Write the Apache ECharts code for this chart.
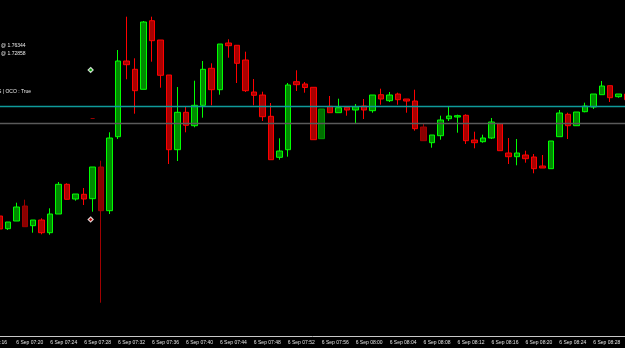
<!DOCTYPE html>
<html>
<head>
<meta charset="utf-8">
<script src="https://cdn.jsdelivr.net/npm/echarts@6/dist/echarts.min.js"></script>
<style>
  html, body { margin: 0; padding: 0; background: #000; }
  #chart { width: 625px; height: 348px; }
</style>
</head>
<body>
<div id="chart"></div>
<script>
// one-minute bars, 6 Sep 07:18 .. 08:32
const times = [
  '07:18', '07:19', '07:20', '07:21', '07:22', '07:23', '07:24', '07:25', '07:26', '07:27',
  '07:28', '07:29', '07:30', '07:31', '07:32', '07:33', '07:34', '07:35', '07:36', '07:37',
  '07:38', '07:39', '07:40', '07:41', '07:42', '07:43', '07:44', '07:45', '07:46', '07:47',
  '07:48', '07:49', '07:50', '07:51', '07:52', '07:53', '07:54', '07:55', '07:56', '07:57',
  '07:58', '07:59', '08:00', '08:01', '08:02', '08:03', '08:04', '08:05', '08:06', '08:07',
  '08:08', '08:09', '08:10', '08:11', '08:12', '08:13', '08:14', '08:15', '08:16', '08:17',
  '08:18', '08:19', '08:20', '08:21', '08:22', '08:23', '08:24', '08:25', '08:26', '08:27',
  '08:28', '08:29', '08:30', '08:31', '08:32'
];

// price in chart points
const opens  = [120, 107.3, 115, 130, 110.3, 116, 103.3, 122, 151.7, 137,
  141.7, 137.3, 169, 125.3, 199.3, 275, 266.7, 246.7, 315.3, 296,
  261, 186.3, 223.7, 210.3, 230.7, 267.7, 246.3, 293, 290.7, 276,
  244, 241, 219.7, 178.7, 186.3, 254.3, 252, 248.7, 197.3, 229.7,
  223.3, 228.7, 226, 230, 225.3, 241.3, 235.3, 242, 237, 235,
  209, 193.3, 200.3, 217.3, 219, 220.7, 196, 194.3, 198, 212.3,
  183, 179.3, 181, 179, 170, 167.3, 199.3, 221.7, 210.3, 224.3,
  229, 241.3, 250.3, 239.3, 242];
const closes = [107, 114, 129, 109.3, 116, 103.3, 122, 151.7, 136.7, 142,
  137, 169, 125.3, 198, 275, 271.3, 245.3, 314, 295.3, 260.7,
  186.3, 223.7, 210.7, 230.7, 266.7, 246.3, 292, 290.3, 272.7, 245.3,
  240.7, 219.3, 176.3, 185, 251, 251.3, 248.5, 196.3, 227, 223.3,
  228.3, 226, 229.3, 226, 241, 237, 241, 236.3, 235, 207.3,
  195.3, 201, 216, 220, 220.3, 195.3, 193.3, 198, 214, 185.3,
  179.3, 183, 177.3, 167.3, 168, 195, 223, 210.3, 224, 230,
  242, 250, 238.3, 242, 236.3];
const lows   = [106, 106, 115, 109.3, 103.3, 101.7, 101.3, 122, 136.7, 135.3,
  131, 124.3, 33.3, 122, 197, 256.7, 222.3, 246.7, 274.3, 248.3,
  172, 175, 203.7, 208.7, 218.3, 230.7, 241.3, 278.3, 253, 244,
  230.7, 215, 176.3, 176.3, 179.3, 245, 243.3, 196.3, 197.3, 223.3,
  223.3, 220.3, 212.3, 217, 223.3, 231.3, 234, 231.3, 223.3, 205.3,
  195.3, 188.3, 196.3, 215, 203.3, 192, 187.7, 193.3, 197, 185.3,
  172, 170.7, 173.3, 162.7, 168, 167.3, 199.3, 197, 210.3, 223.7,
  227, 241.3, 234, 238.3, 236];
const highs  = [121, 114, 133.3, 136.3, 116, 117.7, 127.7, 154, 152.7, 142,
  148, 169, 175.3, 203.7, 286, 319.3, 277.7, 315, 319.3, 296,
  261, 249, 229.3, 255.3, 275, 272.7, 292, 296.7, 290.7, 284.3,
  257, 244.3, 233, 197.7, 253, 265.7, 254, 248.7, 227, 240,
  237.3, 228.7, 232, 237, 241, 247.3, 244, 243.3, 237, 246.3,
  212, 201, 220.3, 230, 221.3, 221.7, 204.3, 201.3, 218, 212.3,
  198, 197, 185.3, 182, 181, 195, 226, 223.3, 224, 233.3,
  242, 255, 250.3, 242, 242];

// bars drawn in the darker shade
const dimBars = [3, 12, 38, 50];

// order lines and trade arrows
const levelTeal = 229.5;
const levelGrey = 212.7;
const entryBar = 11;
const buyMark = 266;
const sellMark = 116.5;
const stopMark = 217.5;

const chart = echarts.init(document.getElementById('chart'));

const candleData = times.map((t, i) => {
  const item = { value: [opens[i], closes[i], lows[i], highs[i]] };
  if (dimBars.includes(i)) {
    const down = closes[i] < opens[i];
    item.itemStyle = down
      ? { color: '#8a0000', borderColor: '#a00000' }
      : { color: '#007000', borderColor: '#009a00' };
  }
  return item;
});

const every4 = (idx) => (idx - 2) % 4 === 0;

chart.setOption({
  animation      : false,
  backgroundColor: '#000000',
  grid: {
    left           : -4.94,
    top            : 0,
    width          : 636.4,
    height         : 336,
    containLabel   : false,
    outerBoundsMode: 'none'
  },
  xAxis: {
    type       : 'category',
    data       : times,
    boundaryGap: true,
    axisLine   : { lineStyle: { color: '#c8c8c8', width: 1 } },
    axisTick   : {
      alignWithLabel: true,
      interval      : every4,
      length        : 3,
      lineStyle     : { color: '#c8c8c8' }
    },
    axisLabel: {
      interval    : every4,
      align       : 'left',
      margin      : 4,
      fontSize    : 5,
      fontFamily  : 'Liberation Sans',
      color       : '#e0e0e0',
      hideOverlap : false,
      formatter   : (v) => '6 Sep ' + v
    },
    splitLine: { show: false }
  },
  yAxis: {
    type : 'value',
    min  : 0,
    max  : 336,
    show : false,
    splitLine: { show: false }
  },
  graphic: [
    { type: 'text', left: -20, top: 340, style: { text: '6 Sep 07:16', fill: '#e0e0e0', font: '5px "Liberation Sans"' } },
    { type: 'text', left: 1, top: 43, style: { text: '@ 1.76344', fill: '#e8e8e8', font: '5px "Liberation Sans"' } },
    { type: 'text', left: 1, top: 51, style: { text: '@ 1.72858', fill: '#e8e8e8', font: '5px "Liberation Sans"' } },
    { type: 'text', left: -2, top: 89, style: { text: 'S | OCO : True', fill: '#e8e8e8', font: '5px "Liberation Sans"' } }
  ],
  series: [
    {
      type    : 'candlestick',
      data    : candleData,
      barWidth: 6,
      itemStyle: {
        color       : '#008a00',
        color0      : '#a80000',
        borderColor : '#00ff00',
        borderColor0: '#ff0000',
        borderWidth : 1
      },
      markLine: {
        silent   : true,
        symbol   : 'none',
        label    : { show: false },
        animation: false,
        data     : [
          { yAxis: levelTeal, lineStyle: { color: '#0f9a9a', width: 1.3, type: 'solid' } },
          { yAxis: levelGrey, lineStyle: { color: '#5a5a5a', width: 1.3, type: 'solid' } }
        ]
      }
    },
    {
      type      : 'scatter',
      symbol    : 'diamond',
      symbolSize: 5,
      data      : [
        { value: [entryBar, buyMark], itemStyle: { color: '#00c000' } },
        { value: [entryBar, sellMark], itemStyle: { color: '#e00000' } }
      ],
      itemStyle: { borderColor: '#ffffff', borderWidth: 1.2 },
      symbolOffset: [-2, 0]
    },
    {
      type      : 'scatter',
      symbol    : 'rect',
      symbolSize: [4, 1],
      data      : [[entryBar, stopMark]],
      itemStyle : { color: '#c00000' }
    }
  ]
});
</script>
</body>
</html>
